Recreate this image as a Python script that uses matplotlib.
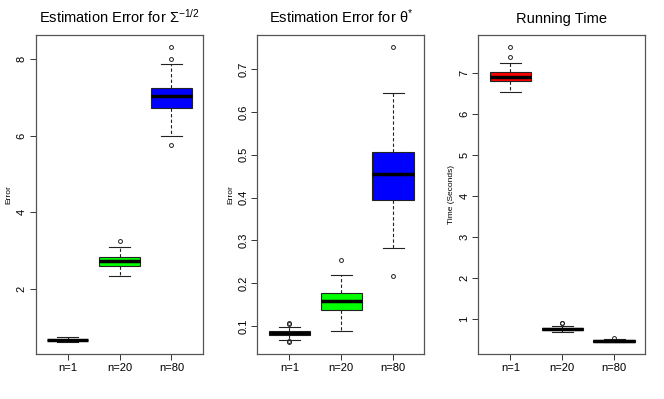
import numpy as np
import matplotlib
matplotlib.use("Agg")
from matplotlib import pyplot as plt

plt.rcParams['font.family'] = ['Liberation Sans', 'DejaVu Sans']
plt.rcParams['mathtext.fontset'] = 'custom'
plt.rcParams['mathtext.rm'] = 'Liberation Sans'
plt.rcParams['mathtext.it'] = 'Liberation Sans:italic'

labels = ["n=1", "n=20", "n=80"]

# Estimation error for Sigma^{-1/2}
sig_med = [0.68, 2.73, 7.03]
sig_q1 = [0.67, 2.61, 6.72]
sig_q3 = [0.69, 2.84, 7.23]
sig_wlo = [0.62, 2.34, 5.98]
sig_whi = [0.76, 3.10, 7.87]
sig_fliers = [[], [3.25], [8.30, 8.00, 5.75]]

# Estimation error for theta*
th_med = [0.083, 0.159, 0.454]
th_q1 = [0.078, 0.137, 0.395]
th_q3 = [0.088, 0.178, 0.506]
th_wlo = [0.067, 0.089, 0.283]
th_whi = [0.097, 0.219, 0.645]
th_fliers = [[0.104, 0.107, 0.062, 0.065], [0.254], [0.751, 0.217]]

# Running time
rt_med = [6.91, 0.77, 0.47]
rt_q1 = [6.80, 0.74, 0.455]
rt_q3 = [7.02, 0.79, 0.49]
rt_wlo = [6.54, 0.70, 0.44]
rt_whi = [7.24, 0.84, 0.51]
rt_fliers = [[7.63, 7.39], [0.90, 0.92], [0.55]]

panels = [
    ("Estimation Error for $\\Sigma^{-1/2}$", "Error",
     sig_med, sig_q1, sig_q3, sig_wlo, sig_whi, sig_fliers,
     ["#8B0000", "#00FF00", "#0000FF"], [2, 4, 6, 8]),
    ("Estimation Error for θ$^{*}$", "Error",
     th_med, th_q1, th_q3, th_wlo, th_whi, th_fliers,
     ["#8B0000", "#00FF00", "#0000FF"], [0.1, 0.2, 0.3, 0.4, 0.5, 0.6, 0.7]),
    ("Running Time", "Time (Seconds)",
     rt_med, rt_q1, rt_q3, rt_wlo, rt_whi, rt_fliers,
     ["#FF0000", "#00FF00", "#0000FF"], [1, 2, 3, 4, 5, 6, 7]),
]

lefts = [35.5 / 664, 257.3 / 664, 478.3 / 664]
fig = plt.figure(figsize=(6.64, 3.99), dpi=100)

for left, (title, ylab, med, q1, q3, wlo, whi, fl, cols, yt) in zip(lefts, panels):
    ax = fig.add_axes([left, 1 - 354 / 399, 167 / 664, 318.5 / 399])
    stats = []
    for i in range(3):
        stats.append(dict(med=med[i], q1=q1[i], q3=q3[i], whislo=wlo[i],
                          whishi=whi[i], fliers=fl[i], label=labels[i]))
    bp = ax.bxp(stats, positions=[1, 2, 3], widths=0.8, patch_artist=True,
                boxprops=dict(edgecolor="#222222", linewidth=0.8),
                medianprops=dict(color="black", linewidth=2.5),
                whiskerprops=dict(color="#222222", linewidth=0.8, linestyle=(0, (3, 2))),
                capprops=dict(color="#222222", linewidth=0.8),
                capwidths=0.4,
                flierprops=dict(marker="o", markersize=2.8, markerfacecolor="none",
                                markeredgecolor="#222222", markeredgewidth=0.7))
    for patch, c in zip(bp["boxes"], cols):
        patch.set_facecolor(c)

    allv = [v for v in wlo + whi] + [v for f in fl for v in f]
    lo, hi = min(allv), max(allv)
    pad = (hi - lo) * 0.04
    ax.set_ylim(lo - pad, hi + pad)
    ax.set_xlim(0.38, 3.6)
    ax.set_yticks(yt)
    ax.set_yticklabels([("%g" % v) for v in yt], rotation=90, va="center")
    ax.tick_params(labelsize=8, length=4, width=0.7, color="#333333", pad=2.5)
    ax.set_title(title, fontsize=10.5, pad=9)
    ax.set_ylabel(ylab, fontsize=6, labelpad=3)
    for s in ax.spines.values():
        s.set_color("#555555")
        s.set_linewidth(0.9)

plt.savefig("out.png", dpi=100)
